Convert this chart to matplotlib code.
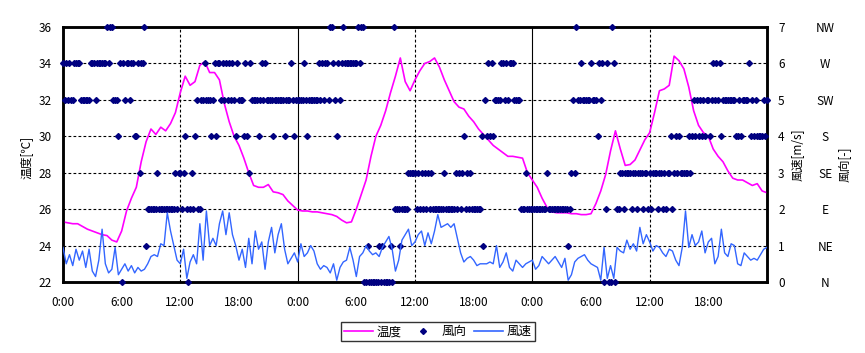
import numpy as np
import matplotlib
matplotlib.use("Agg")
import matplotlib.pyplot as plt
from matplotlib.lines import Line2D

plt.rcParams['font.family'] = ['Noto Sans CJK JP', 'DejaVu Sans']

# temperature every 30 min, 0:00 day 1 .. 0:00 day 4
temp = [
    25.3, 25.25, 25.2, 25.2, 25.05, 24.9, 24.8, 24.7, 24.6, 24.55, 24.3, 24.2,
    24.8, 25.9, 26.6, 27.2, 28.6, 29.7, 30.4, 30.1, 30.5, 30.3, 30.7, 31.3,
    32.4, 33.3, 32.8, 33.0, 33.9, 34.1, 33.5, 33.5, 33.1, 31.8, 30.8, 30.0,
    29.5, 28.8, 28.0, 27.3, 27.2, 27.2, 27.35, 26.95, 26.9, 26.8, 26.45, 26.2,
    25.95, 25.9, 25.9, 25.85, 25.85, 25.8, 25.75, 25.7, 25.6, 25.4, 25.25, 25.3,
    26.0, 26.8, 27.6, 28.9, 30.0, 30.6, 31.4, 32.4, 33.3, 34.3, 33.0, 32.5,
    33.1, 33.6, 34.0, 34.1, 34.3, 33.8, 33.1, 32.5, 31.9, 31.6, 31.5, 31.1,
    30.8, 30.4, 30.1, 29.8, 29.5, 29.3, 29.1, 28.9, 28.9, 28.85, 28.8, 28.0,
    27.6, 27.2, 26.6, 26.1, 25.85, 25.8, 25.8, 25.8, 25.75, 25.75, 25.7, 25.7,
    25.75, 26.3, 27.0, 27.9, 29.2, 30.3, 29.3, 28.4, 28.45, 28.7, 29.25, 29.8,
    30.2, 31.3, 32.5, 32.6, 32.8, 34.4, 34.15, 33.7, 32.7, 31.4, 30.6, 30.2,
    30.0, 29.3, 28.9, 28.6, 28.1, 27.7, 27.6, 27.6, 27.45, 27.3, 27.4, 27.0,
    26.9,
]
temp_hours = np.arange(len(temp)) * 0.5

# wind speed [m/s] every 20 min
wind_speed = [
    0.95, 0.5, 0.75, 0.45, 0.9, 0.6, 0.85, 0.4, 0.9, 0.3, 0.15, 0.6,
    1.45, 0.5, 0.25, 0.35, 0.95, 0.2, 0.35, 0.5, 0.3, 0.45, 0.25, 0.4,
    0.3, 0.35, 0.5, 0.7, 0.75, 0.7, 1.05, 1.0, 1.9, 1.4, 1.0, 0.6,
    0.5, 0.9, 0.1, 0.55, 0.75, 0.5, 1.6, 0.6, 1.95, 1.0, 1.2, 1.0,
    1.6, 1.95, 1.3, 1.9, 1.3, 1.0, 0.6, 0.9, 0.4, 1.2, 0.5, 1.4,
    0.9, 1.1, 0.35, 1.1, 1.5, 0.8, 1.3, 1.6, 0.9, 0.5, 0.65, 0.8,
    0.55, 1.05, 0.7, 0.8, 1.0, 0.85, 0.5, 0.35, 0.45, 0.4, 0.25, 0.5,
    0.05, 0.4, 0.55, 0.6, 0.95, 0.6, 0.15, 0.7, 0.8, 1.0, 0.85, 0.75,
    0.8, 0.7, 0.95, 1.1, 1.25, 0.9, 0.3, 0.6, 1.15, 1.3, 1.45, 1.0,
    1.1, 1.3, 1.4, 1.0, 1.35, 1.05, 1.4, 1.85, 1.5, 1.55, 1.6, 1.5,
    1.6, 1.2, 0.8, 0.55, 0.65, 0.7, 0.6, 0.45, 0.5, 0.5, 0.5, 0.55,
    0.5, 1.0, 0.4, 0.55, 0.8, 0.4, 0.3, 0.6, 0.5, 0.4, 0.5, 0.55,
    0.6, 0.35, 0.45, 0.7, 0.6, 0.5, 0.6, 0.7, 0.55, 0.4, 0.65, 0.05,
    0.2, 0.55, 0.65, 0.7, 0.75, 0.6, 0.5, 0.45, 0.4, 0.05, 0.95, 0.1,
    0.45, 0.1, 0.95, 0.85, 0.8, 1.15, 0.9, 1.05, 0.85, 1.5, 1.05, 1.3,
    1.1, 0.85, 1.0, 0.95, 0.8, 0.7, 0.9, 0.85, 0.6, 0.45, 0.95, 1.95,
    0.95, 1.3, 1.0, 1.1, 1.4, 0.8, 1.1, 1.2, 0.5, 0.7, 1.45, 0.8,
    0.7, 1.05, 1.0, 0.5, 0.45, 0.8, 0.7, 0.6, 0.65, 0.6, 0.75, 0.9,
    0.95,
]
speed_hours = np.arange(len(wind_speed)) / 3

# wind direction every 10 min, one string per hour
# 0=N 1=NE 2=E 3=SE 4=S 5=SW 6=W 7=NW
wind_dir_hourly = [
    "656565", "566665", "555556", "665666", "666767", "755546",
    "065665", "664463", "667122", "222232", "222222", "222323",
    "323420", "232452", "255655", "545646", "656565", "656546",
    "555464", "365555", "456565", "555455", "555545", "556545",
    "555565", "455555", "565656", "657765", "465676", "666666",
    "676770", "010000", "001010", "000107", "222122", "223333",
    "323232", "323232", "222222", "322222", "232323", "423232",
    "222224", "154646", "455556", "656566", "655552", "223222",
    "222222", "222322", "222222", "222212", "353755", "655555",
    "655546", "560260", "076022", "332333", "323323", "332332",
    "323332", "332323", "342343", "433333", "434545", "454545",
    "545656", "564555", "555554", "454555", "564545", "444454",
]
wind_dir = np.array([int(c) for c in "".join(wind_dir_hourly) + "5"])
dir_hours = np.arange(len(wind_dir)) / 6

dir_labels = ["N", "NE", "E", "SE", "S", "SW", "W", "NW"]
time_labels = ["0:00", "6:00", "12:00", "18:00"] * 3

fig = plt.figure(figsize=(8.65, 3.53), dpi=100)
ax = fig.add_axes([0.0728, 0.2011, 0.8139, 0.7224])
ax.set_xlim(0, 72)
ax.set_ylim(22, 36)
ax.set_yticks(np.arange(22, 37, 2))
ax.set_xticks(np.arange(0, 72, 6))
ax.set_xticklabels(time_labels)
ax.tick_params(length=0, labelsize=8.5)
ax.tick_params(axis='y', pad=8)
ax.tick_params(axis='x', pad=10)
ax.set_ylabel("温度[℃]", fontsize=8.5)
ax.yaxis.set_label_coords(-0.043, 0.49)

for y in np.arange(24, 36, 2):
    ax.axhline(y, color='black', lw=0.8, ls=(0, (2.5, 2)), zorder=1)
for h in np.arange(12, 72, 12):
    if h % 24 == 0:
        ax.axvline(h, color='black', lw=0.8, zorder=1)
    else:
        ax.axvline(h, color='black', lw=0.8, ls=(0, (2.5, 2)), zorder=1)

ax.plot(temp_hours, temp, color='#FF00FF', lw=1.2, zorder=3)

ax2 = ax.twinx()
ax2.set_ylim(0, 7)
ax2.set_yticks(np.arange(0, 8))
ax2.tick_params(length=0, labelsize=8.5, pad=8)
ax2.set_ylabel("風速[m/s]", fontsize=8.5)
ax2.yaxis.set_label_coords(1.033, 0.5)
ax2.plot(dir_hours, wind_dir, ls='none', marker='D', ms=3,
         color='#000080', clip_on=False, zorder=3)
ax2.plot(speed_hours, wind_speed, color='#3366FF', lw=1.0, zorder=4)

ax3 = ax.twinx()
ax3.set_ylim(0, 7)
ax3.set_yticks(np.arange(0, 8))
ax3.set_yticklabels(dir_labels)
ax3.tick_params(length=0, labelsize=8.5, pad=42)
for lbl in ax3.get_yticklabels():
    lbl.set_horizontalalignment('center')
ax3.set_ylabel("風向[-]", fontsize=8.5)
ax3.yaxis.set_label_coords(1.101, 0.46)
for s in ax3.spines.values():
    s.set_visible(False)

for a in (ax, ax2):
    for s in a.spines.values():
        s.set_linewidth(1.8)

handles = [
    Line2D([], [], color='#FF00FF', lw=1.2),
    Line2D([], [], ls='none', marker='D', ms=3, color='#000080'),
    Line2D([], [], color='#3366FF', lw=1.2),
]
leg = fig.legend(handles, ["温度", "風向", "風速"], loc='center',
                 bbox_to_anchor=(0.506, 0.06), ncol=3, fontsize=9,
                 frameon=True, fancybox=False, edgecolor='black',
                 handlelength=2.3, handletextpad=0.3, columnspacing=0.6,
                 borderpad=0.25, borderaxespad=0)
leg.get_frame().set_linewidth(1.0)

fig.savefig("out.png", dpi=100)
